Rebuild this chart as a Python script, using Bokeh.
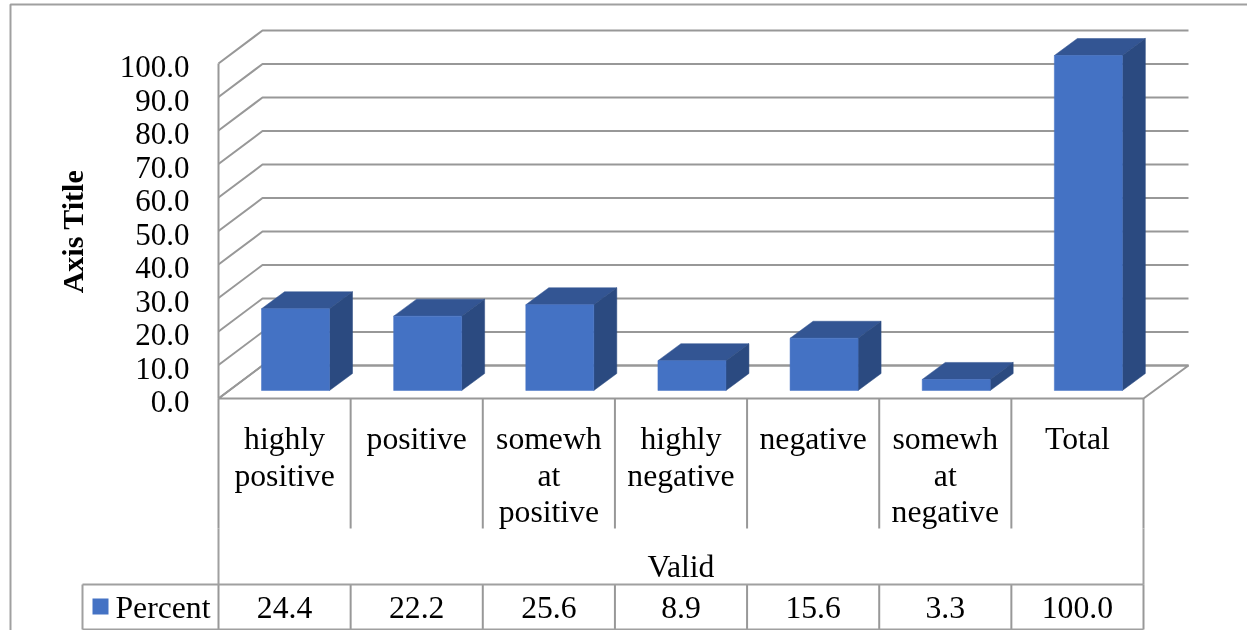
from bokeh.plotting import figure
from bokeh.embed import file_html
from bokeh.resources import INLINE
from bokeh.models import LinearAxis, FixedTicker, Range1d, NumeralTickFormatter
from bokeh.core.properties import value

categories = [["highly", "positive"], ["positive"], ["somewh", "at", "positive"],
              ["highly", "negative"], ["negative"], ["somewh", "at", "negative"], ["Total"]]
percent = [24.4, 22.2, 25.6, 8.9, 15.6, 3.3, 100.0]
y_ticks = [0, 10, 20, 30, 40, 50, 60, 70, 80, 90, 100]
group_label = "Valid"
series_name = "Percent"
axis_title = "Axis Title"

W, H = 1247, 630
FONT = "Liberation Serif"
TXT = "31.7px"
X0, Y0 = 218.0, 398.0       # pixel position of category 0 / value 0
CW = (1143.0 - 218.0) / 7   # pixels per category
PX = 3.35                   # pixels per unit of value

FRONT, TOP, SIDE = "#4472C4", "#335593", "#2B4A80"
GRID = "#989898"
TABLE = "#a0a0a0"

p = figure(width=W, height=H, output_backend="svg", toolbar_location=None,
           min_border=0, min_border_left=0, min_border_right=0, min_border_top=0, min_border_bottom=0,
           x_range=Range1d(-X0 / CW, (W - X0) / CW),
           y_range=Range1d(-(H - Y0) / PX, Y0 / PX),
           x_axis_type=None, y_axis_type=None)
p.outline_line_color = None
p.grid.visible = False
p.styles = {"position": "fixed", "left": "0", "top": "0"}
# tick labels sit a little below their gridlines in the reference
LABEL_DROP = 3
p.extra_y_ranges["labels"] = Range1d(-(H - Y0 - LABEL_DROP) / PX, (Y0 + LABEL_DROP) / PX)

dx = lambda px: px / CW
dy = lambda px: px / PX

# wall gridlines
for t in y_ticks:
    p.line([0, dx(44), 7 + dx(45)], [t, t + dy(33), t + dy(33)], line_color=GRID, line_width=2)
# floor
p.line([0, 7, 7 + dx(45), dx(44), 0], [0, 0, dy(33), dy(33), 0], line_color=GRID, line_width=2)
# value axis line
p.line([0, 0], [0, 100], line_color=GRID, line_width=2)

# y axis
ax = LinearAxis(fixed_location=0, y_range_name="labels", bounds=(0, 101.5), ticker=FixedTicker(ticks=y_ticks))
ax.formatter = NumeralTickFormatter(format="0.0")
ax.major_tick_line_color = None
ax.minor_tick_line_color = None
ax.axis_line_color = None
ax.major_label_text_font = FONT
ax.major_label_text_font_size = "31px"
ax.major_label_text_color = "black"
ax.major_label_standoff = 23
ax.axis_label = axis_title
ax.axis_label_text_font = FONT
ax.axis_label_text_font_style = "bold"
ax.axis_label_text_font_size = "30px"
ax.axis_label_text_color = "black"
ax.axis_label_standoff = 28
p.add_layout(ax, "left")

# bars
base = dy(8)
for i, v in enumerate(percent):
    l = i + dx(43)
    r = l + dx(68)
    t = base + v
    ox, oy = dx(23), dy(17)
    p.patch([l, l + ox, r + ox, r], [t, t + oy, t + oy, t], fill_color=TOP, line_color=TOP, line_width=0.5)
    p.patch([r, r + ox, r + ox, r], [t, t + oy, base + oy, base], fill_color=SIDE, line_color=SIDE, line_width=0.5)
    p.quad(left=l, right=r, bottom=base, top=t, fill_color=FRONT, line_color=FRONT, line_width=0.5)

# table grid
tick_bottom = -dy(528 - Y0)
row_top = -dy(584 - Y0)
row_bottom = -dy(629 - Y0)
xs = list(range(8))
p.segment(x0=xs, x1=xs, y0=[0] * 8, y1=[tick_bottom] * 8, line_color=GRID, line_width=2)
p.segment(x0=[0, 7], x1=[0, 7], y0=[tick_bottom] * 2, y1=[row_top] * 2, line_color=TABLE, line_width=2)
p.segment(x0=xs, x1=xs, y0=[row_top] * 8, y1=[row_bottom] * 8, line_color=GRID, line_width=2)
key_left = -dx(X0 - 82)
p.segment(x0=[key_left, key_left, key_left], x1=[key_left, 7, 7],
          y0=[row_top, row_top, row_bottom], y1=[row_bottom, row_top, row_bottom],
          line_color=TABLE, line_width=2)

# outer chart border
b_left = -dx(X0 - 10)
b_top = dy(Y0 - 4)
b_right = (W - X0) / CW
b_bot = -(H - Y0) / PX
p.line([b_left, b_left, b_right], [b_bot, b_top, b_top], line_color=TABLE, line_width=2)

# category labels
LINE = 36.5
tx, ty, tt = [], [], []
for i, lines in enumerate(categories):
    for j, s in enumerate(lines):
        tx.append(i + 0.5)
        ty.append(-dy(438 - Y0 + j * LINE))
        tt.append(s)
p.text(x=tx, y=ty, text=tt, text_font=value(FONT), text_font_size=TXT, text_color="black",
       text_align="center", text_baseline="middle")
p.text(x=[3.5], y=[-dy(566 - Y0)], text=[group_label], text_font=value(FONT), text_font_size=TXT,
       text_color="black", text_align="center", text_baseline="middle")

# data table row
p.text(x=[i + 0.5 for i in range(7)], y=[-dy(607 - Y0)] * 7, text=[f"{v:.1f}" for v in percent],
       text_font=value(FONT), text_font_size=TXT, text_color="black",
       text_align="center", text_baseline="middle")
p.quad(left=[-dx(X0 - 92)], right=[-dx(X0 - 108)], top=[-dy(598 - Y0)], bottom=[-dy(614 - Y0)],
       fill_color=FRONT, line_color=None)
p.text(x=[-dx(X0 - 115)], y=[-dy(607 - Y0)], text=[series_name], text_font=value(FONT),
       text_font_size=TXT, text_color="black", text_align="left", text_baseline="middle")

open("out.html", "w").write(file_html(p, INLINE))
